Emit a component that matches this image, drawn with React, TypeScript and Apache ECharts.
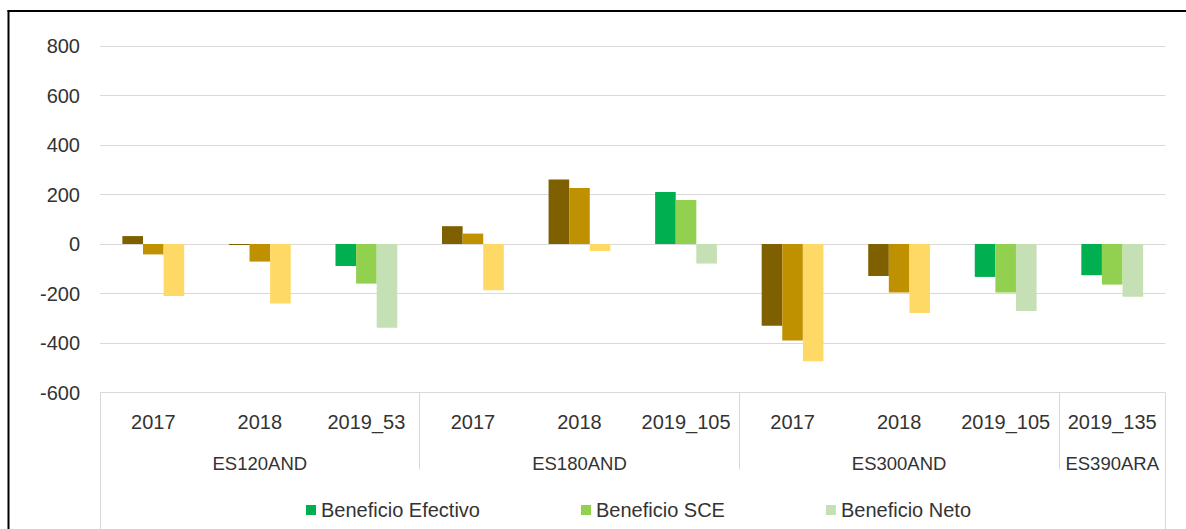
import React, { useEffect, useRef } from "react";
import * as echarts from "echarts";

const categories = ["2017", "2018", "2019_53", "2017", "2018", "2019_105", "2017", "2018", "2019_105", "2019_135"];
const groupNames = ["ES120AND", "ES180AND", "ES300AND", "ES390ARA"];
const groupSizes = [3, 3, 3, 1];
const seriesNames = ["Beneficio Efectivo", "Beneficio SCE", "Beneficio Neto"];
const efectivo = [32, -4, -89, 72, 261, 210, -330, -129, -133, -126];
const sce = [-42, -71, -160, 42, 226, 178, -390, -196, -196, -164];
const neto = [-210, -240, -338, -187, -28, -79, -474, -279, -271, -213];
const yTicks = { min: -600, max: 800, interval: 200 };
const oldColors = ["#7F6000", "#BF9000", "#FFD966"];
const newColors = ["#00B050", "#92D050", "#C5E0B4"];

const FONT = "Liberation Sans";
const TEXT = "#333333";

export default function App() {
  const ref = useRef<HTMLDivElement>(null);
  useEffect(() => {
    document.body.style.margin = "0";
    if (!ref.current) return;
    const chart = echarts.init(ref.current, undefined, { renderer: "svg" });
    const values = [efectivo, sce, neto];
    const n = categories.length;

    const boundaries: number[] = [];
    const centers: number[] = [];
    let acc = 0;
    groupSizes.forEach((s) => {
      centers.push(acc + s / 2);
      acc += s;
      boundaries.push(acc);
    });
    const innerBounds = boundaries.slice(0, -1);

    const series = values.map((vals, si) => ({
      name: seriesNames[si],
      type: "bar",
      xAxisIndex: 0,
      yAxisIndex: 0,
      barGap: "0%",
      barCategoryGap: "42%",
      itemStyle: { color: newColors[si] },
      data: vals.map((v, i) => ({
        value: v,
        itemStyle: { color: categories[i].startsWith("2019") ? newColors[si] : oldColors[si] },
      })),
    }));

    chart.setOption({
      animation: false,
      backgroundColor: "#ffffff",
      textStyle: { fontFamily: FONT },
      grid: { left: 100, right: 20.5, top: 46, bottom: 136.5, containLabel: false },
      legend: {
        data: seriesNames,
        left: 301,
        top: 495,
        itemWidth: 10,
        itemHeight: 10,
        itemGap: 101,
        icon: "rect",
        textStyle: { fontFamily: FONT, fontSize: 20, color: TEXT, padding: [0, 0, 0, 0] },
      },
      xAxis: [
        {
          type: "category",
          data: categories,
          position: "bottom",
          axisLine: { show: true, lineStyle: { color: "#D9D9D9", width: 1 } },
          axisTick: { show: false },
          axisLabel: { interval: 0, margin: 19, fontFamily: FONT, fontSize: 20, color: TEXT },
          splitLine: { show: false },
        },
        {
          type: "value",
          min: 0,
          max: n,
          position: "bottom",
          axisLine: { show: false },
          splitLine: { show: false },
          axisTick: {
            show: true,
            customValues: innerBounds,
            length: 77,
            lineStyle: { color: "#D9D9D9", width: 1 },
          },
          axisLabel: {
            show: true,
            customValues: centers,
            margin: 61,
            fontFamily: FONT,
            fontSize: 18.5,
            color: TEXT,
            formatter: (v: number) => {
              const idx = centers.findIndex((c) => Math.abs(c - v) < 1e-6);
              return idx >= 0 ? groupNames[idx] : "";
            },
          },
        },
        {
          type: "value",
          min: 0,
          max: n,
          position: "bottom",
          axisLine: { show: false },
          splitLine: { show: false },
          axisTick: {
            show: true,
            customValues: [0, n],
            length: 140,
            lineStyle: { color: "#D9D9D9", width: 1 },
          },
          axisLabel: { show: false },
        },
      ],
      yAxis: {
        type: "value",
        min: yTicks.min,
        max: yTicks.max,
        interval: yTicks.interval,
        axisLine: { show: false },
        axisTick: { show: false },
        axisLabel: { margin: 20, fontFamily: FONT, fontSize: 20, color: TEXT },
        splitLine: { lineStyle: { color: "#D9D9D9", width: 1 } },
      },
      graphic: [
        { type: "line", shape: { x1: 7.5, y1: 11, x2: 1186, y2: 11 }, style: { stroke: "#000", lineWidth: 2 }, silent: true },
        { type: "line", shape: { x1: 8.5, y1: 10, x2: 8.5, y2: 529 }, style: { stroke: "#000", lineWidth: 2 }, silent: true },
      ],
      series,
    });
    return () => chart.dispose();
  }, []);
  return <div ref={ref} style={{ width: 1186, height: 529 }} />;
}
